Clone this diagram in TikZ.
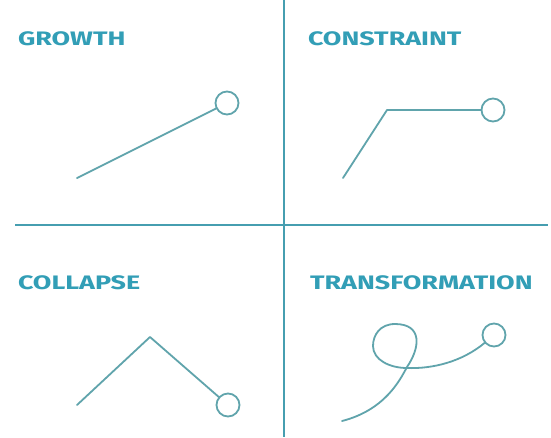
\documentclass[tikz,border=0pt]{standalone}
\usepackage{fontspec}
\setmainfont{Fira Sans}
\newcommand{\quadtitle}[1]{\scalebox{1.38}[1]{#1}}
\begin{document}
\begin{tikzpicture}[x=1pt,y=-1pt,
  every node/.style={inner sep=0pt,outer sep=0pt},
  label/.style={anchor=base west,text=labelcol,font=\fontsize{19.5}{19.5}\selectfont\bfseries},
  divider/.style={draw=dividercol,line width=2.2pt},
  trace/.style={draw=tracecol,line width=1.8pt,line join=round,line cap=round},
  endring/.style={circle,draw=tracecol,line width=1.8pt,minimum size=23pt,fill=white}
]
\definecolor{labelcol}{RGB}{50,158,182}
\definecolor{dividercol}{RGB}{70,158,176}
\definecolor{tracecol}{RGB}{96,164,172}

\useasboundingbox[fill=white] (0,0) rectangle (551,437);

% quadrant dividers
\coordinate (vtop) at (284,0);
\coordinate (vbot) at (284,437);
\coordinate (hl) at (15,225);
\coordinate (hr) at (548,225);
\draw[divider] (vtop) -- (vbot);
\draw[divider] (hl) -- (hr);

% quadrant titles
\node[label] (tgrowth) at (18,45.5) {\quadtitle{GROWTH}};
\node[label] (tconstraint) at (308,45.5) {\quadtitle{CONSTRAINT}};
\node[label] (tcollapse) at (18,289.5) {\quadtitle{COLLAPSE}};
\node[label] (ttransform) at (310,289.5) {\quadtitle{TRANSFORMATION}};

% growth: a straight rise
\node[endring] (g1) at (227,103) {};
\coordinate (g0) at (77,178);
\draw[trace] (g0) -- (g1);

% constraint: rise, then a flat ceiling
\node[endring] (c2) at (493,110) {};
\coordinate (c0) at (343,178);
\coordinate (c1) at (387,110);
\draw[trace] (c0) -- (c1) -- (c2);

% collapse: rise, then fall
\node[endring] (k2) at (228,405) {};
\coordinate (k0) at (77,405);
\coordinate (k1) at (150,337);
\draw[trace] (k0) -- (k1) -- (k2);

% transformation: a looping path
\node[endring] (r1) at (494,335) {};
\coordinate (r0) at (342,421);
\draw[trace] (r0) .. controls (385,410) and (400,380) .. (407,367)
  .. controls (420,348) and (423,324) .. (395,324)
  .. controls (380,324) and (373,335) .. (373,346)
  .. controls (373,360) and (390,368) .. (407,368)
  .. controls (432,369) and (462,362) .. (r1);
\end{tikzpicture}
\end{document}
